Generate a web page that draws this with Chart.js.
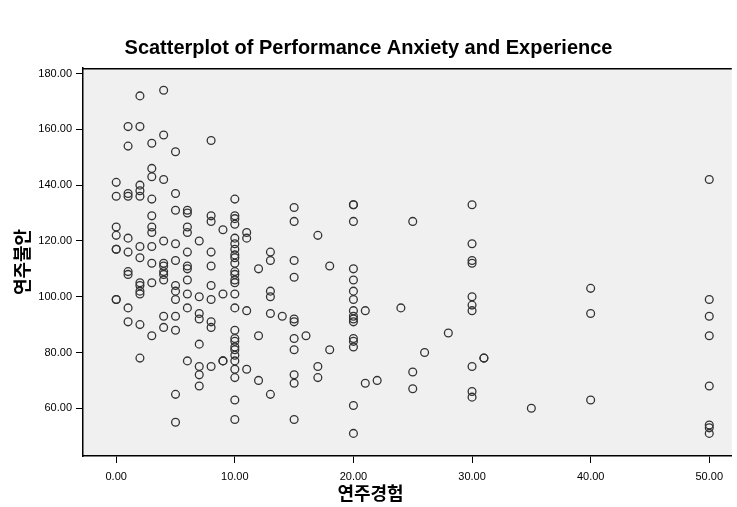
<!DOCTYPE html>
<html><head><meta charset="utf-8">
<script src="https://cdn.jsdelivr.net/npm/chart.js@4"></script>
<style>html,body{margin:0;padding:0;background:#fff;}</style>
</head><body>
<canvas id="c" width="737" height="507"></canvas>
<script>
// 연주경험 (experience, x) and 연주불안 (anxiety, y) — parallel lists
const experience = [
  0,0,0,0,0,0,0,0,
  1,1,1,1,1,1,1,1,1,1,
  2,2,2,2,2,2,2,2,2,2,2,2,2,
  3,3,3,3,3,3,3,3,3,3,3,
  4,4,4,4,4,4,4,4,4,4,4,
  5,5,5,5,5,5,5,5,5,5,5,5,
  6,6,6,6,6,6,6,6,6,6,6,
  7,7,7,7,7,7,7,7,
  8,8,8,8,8,8,8,8,8,8,
  9,9,9,9,
  10,10,10,10,10,10,10,10,10,10,10,10,10,10,10,10,10,10,10,10,10,10,10,10,10,10,10,
  11,11,11,11,
  12,12,12,
  13,13,13,13,13,13,
  14,
  15,15,15,15,15,15,15,15,15,15,15,
  16,
  17,17,17,
  18,18,
  20,20,20,20,20,20,20,20,20,20,20,20,20,20,20,20,
  21,21,
  22,
  24,
  25,25,25,
  26,
  28,
  30,30,30,30,30,30,30,30,30,30,
  31,31,
  35,
  40,40,40,
  50,50,50,50,50,50,50,50
];
const anxiety = [
  141,136,125,122,117,117,99,99,
  161,154,137,136,121,116,109,108,96,91,
  172,161,140,138,136,118,114,105,104,102,101,90,78,
  155,146,143,135,129,125,123,118,112,105,86,
  174,158,142,120,112,111,109,108,106,93,89,
  152,137,131,119,113,104,102,99,93,88,65,55,
  131,130,125,123,116,111,110,106,101,96,77,
  120,100,94,92,83,75,72,68,
  156,129,127,116,111,104,99,91,89,75,
  124,101,77,77,
  135,129,128,126,121,119,117,115,114,112,109,108,106,105,101,96,88,85,84,82,81,79,77,74,71,63,56,
  123,121,95,74,
  110,86,70,
  116,113,102,100,94,65,
  93,
  132,127,113,107,92,91,85,81,72,69,56,
  86,
  122,75,71,
  111,81,
  133,133,127,110,106,102,99,95,93,92,91,85,84,82,61,51,
  95,69,
  70,
  96,
  127,73,67,
  80,
  87,
  133,119,113,112,100,97,95,75,66,64,
  78,78,
  60,
  103,94,63,
  142,99,93,86,68,54,53,51
];
const xTicks = [0, 10, 20, 30, 40, 50];
const yTicks = [60, 80, 100, 120, 140, 160, 180];
const chartTitle = 'Scatterplot of Performance Anxiety and Experience';
const xTitle = '연주경험';
const yTitle = '연주불안';

const points = experience.map((x, i) => ({x: x, y: anxiety[i]}));

const axisTitleFontCss = "bold 18px 'Noto Sans CJK KR', sans-serif";

const bgPlugin = {
  id: 'bg',
  beforeDraw(chart) {
    const {ctx, chartArea: a} = chart;
    ctx.save();
    ctx.fillStyle = '#f0f0f0';
    ctx.fillRect(a.left, a.top, a.right - a.left, a.bottom - a.top);
    ctx.restore();
  },
  afterDraw(chart) {
    const {ctx, chartArea: a} = chart;
    ctx.save();
    ctx.strokeStyle = '#000';
    ctx.lineWidth = 1.5;
    ctx.beginPath();
    ctx.moveTo(a.left, a.top + 0.75);
    ctx.lineTo(a.right, a.top + 0.75);
    ctx.stroke();
    // x-axis title, centred under the page like the original
    ctx.fillStyle = '#000';
    ctx.font = axisTitleFontCss;
    ctx.textAlign = 'center';
    ctx.textBaseline = 'middle';
    ctx.fillText(xTitle, chart.width / 2 + 2, 493);
    ctx.restore();
  }
};

const tickFont = {family: "'Liberation Sans', Arial, sans-serif", size: 11};

new Chart(document.getElementById('c'), {
  type: 'scatter',
  data: {datasets: [{
    data: points,
    pointStyle: 'circle',
    pointRadius: 3.9,
    pointHoverRadius: 3.9,
    borderColor: '#333',
    borderWidth: 1.3,
    backgroundColor: 'rgba(0,0,0,0)'
  }]},
  options: {
    responsive: false,
    animation: false,
    devicePixelRatio: 1,
    events: [],
    layout: {padding: {left: 0, right: 0, top: 0, bottom: 0}},
    plugins: {
      legend: {display: false},
      tooltip: {enabled: false},
      title: {
        display: true, text: chartTitle, color: '#000',
        font: {family: "'Liberation Sans', Arial, sans-serif", size: 20, weight: 'bold'},
        padding: {top: 36, bottom: 8}
      }
    },
    scales: {
      x: {
        type: 'linear', min: -2.8, max: 51.9,
        afterBuildTicks: s => { s.ticks = xTicks.map(v => ({value: v})); },
        afterFit: s => { s.height = 51; },
        ticks: {callback: v => Number(v).toFixed(2), font: tickFont, color: '#000', padding: 7, maxRotation: 0, autoSkip: false},
        grid: {display: true, drawOnChartArea: false, drawTicks: true, tickLength: 7, color: '#000', lineWidth: 1},
        border: {display: true, color: '#000', width: 1.5},
        title: {display: false, text: xTitle}
      },
      y: {
        type: 'linear', min: 42.9, max: 182.0,
        afterBuildTicks: s => { s.ticks = yTicks.map(v => ({value: v})); },
        afterFit: s => { s.width = 83; },
        ticks: {callback: v => Number(v).toFixed(2), font: tickFont, color: '#000', padding: 4, autoSkip: false},
        grid: {display: true, drawOnChartArea: false, drawTicks: true, tickLength: 7, color: '#000', lineWidth: 1},
        border: {display: true, color: '#000', width: 1.5},
        title: {display: true, text: yTitle, color: '#000', font: {family: "'Noto Sans CJK KR', sans-serif", size: 18, weight: 'bold'}, padding: {top: 11, bottom: 0}}
      }
    }
  },
  plugins: [bgPlugin]
});
</script>
</body></html>
